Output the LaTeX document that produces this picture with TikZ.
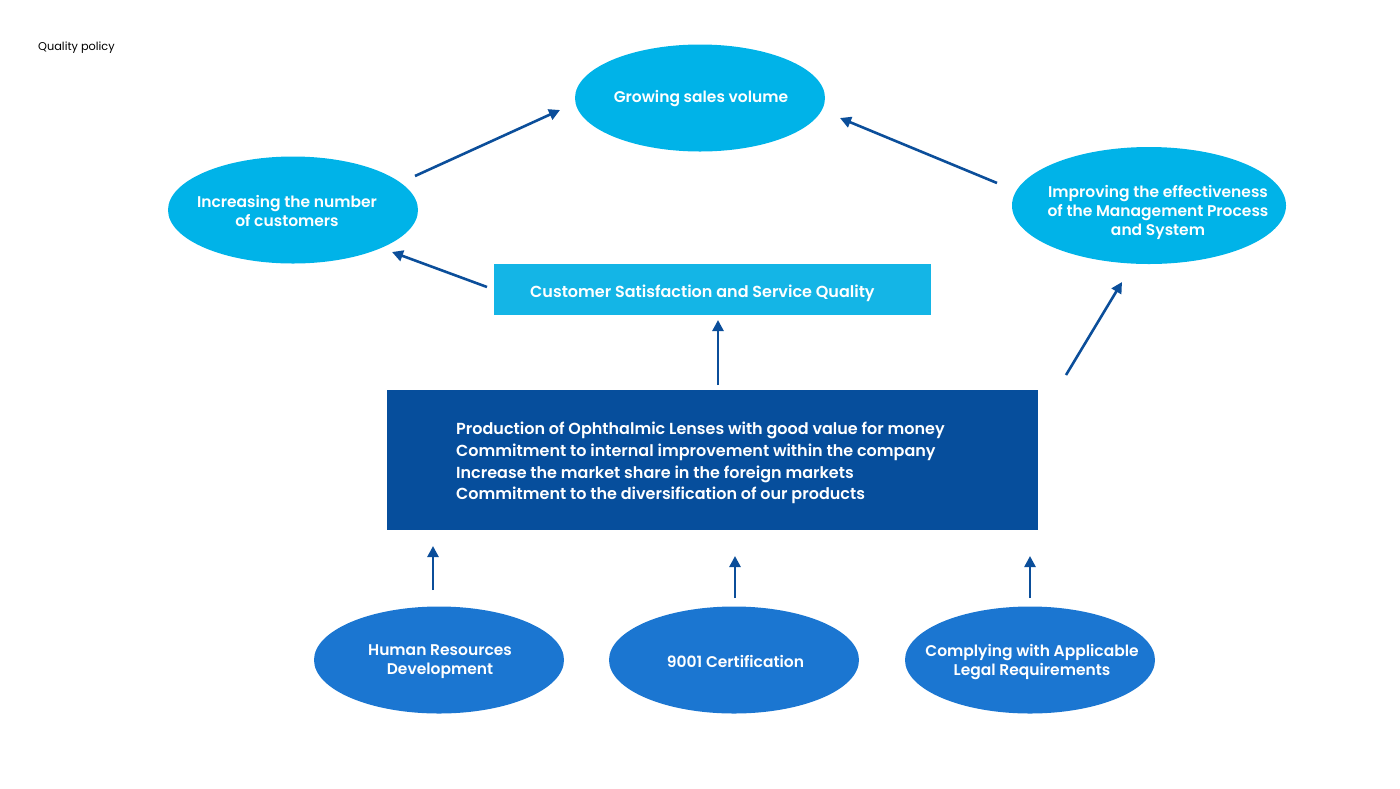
\documentclass[tikz,border=0pt]{standalone}
\usepackage{fontspec}
\setmainfont{Poppins}[BoldFont={Poppins SemiBold}]
\usetikzlibrary{shapes.geometric,arrows.meta}
\definecolor{cyanE}{HTML}{00B3E8}
\definecolor{cyanR}{HTML}{14B5E6}
\definecolor{darkR}{HTML}{064E9C}
\definecolor{midB}{HTML}{1B76D1}
\definecolor{arrC}{HTML}{0B4E9A}
\tikzset{
  ell/.style={ellipse, inner sep=0pt, minimum width=250pt, minimum height=107pt},
  topell/.style={ell, fill=cyanE},
  botell/.style={ell, fill=midB},
  lbl/.style={text=white, font=\fontsize{15.5}{19}\selectfont\bfseries, align=center, inner sep=0pt},
  arr/.style={draw=arrC, line width=2.6pt, -{Triangle[length=11pt,width=11pt]}},
}
\begin{document}
\begin{tikzpicture}[x=1pt,y=-1pt]
\useasboundingbox (0,0) rectangle (1400,788);
\node[anchor=west, inner sep=0pt, font=\fontsize{11.3}{12}\selectfont] (title) at (38,48) {Quality policy};

\node[topell] (grow) at (700,98) {};
\node[lbl] (growt) at (701,99) {Growing sales volume};
\node[topell] (inc) at (293,210) {};
\node[lbl] (inct) at (287,210.5) {Increasing the number\\of customers};
\node[topell, minimum width=274pt, minimum height=117pt] (imp) at (1149,205.5) {};
\node[lbl] (impt) at (1158,212) {Improving the effectiveness\\of the Management Process\\and System};

\node[fill=cyanR, minimum width=437pt, minimum height=51pt, inner sep=0pt] (cs) at (712.5,289.5) {};
\node[lbl, anchor=west, font=\fontsize{16}{19}\selectfont\bfseries] (cst) at (530,293) {Customer Satisfaction and Service Quality};

\node[fill=darkR, minimum width=651pt, minimum height=140pt, inner sep=0pt] (main) at (712.5,460) {};
\node[lbl, anchor=west, align=left, font=\fontsize{16}{21.7}\selectfont\bfseries] (maint) at (456,463) {Production of Ophthalmic Lenses with good value for money\\Commitment to internal improvement within the company\\Increase the market share in the foreign markets\\Commitment to the diversification of our products};

\node[botell] (hr) at (439,660) {};
\node[lbl] (hrt) at (440,662) {Human Resources\\Development};
\node[botell] (iso) at (734,660) {};
\node[lbl] (isot) at (735.5,661) {9001 Certification};
\node[botell] (legal) at (1030,660) {};
\node[lbl] (legalt) at (1032,662) {Complying with Applicable\\Legal Requirements};

\coordinate (a1s) at (415,176); \coordinate (a1e) at (560,110);
\coordinate (a2s) at (997,183); \coordinate (a2e) at (840,118);
\coordinate (a3s) at (487,287); \coordinate (a3e) at (392,252);
\coordinate (a4s) at (718,385); \coordinate (a4e) at (718,320);
\coordinate (a5s) at (1066,375); \coordinate (a5e) at (1122,282);
\coordinate (a6s) at (433,590); \coordinate (a6e) at (433,546);
\coordinate (a7s) at (735,598); \coordinate (a7e) at (735,556);
\coordinate (a8s) at (1030,598); \coordinate (a8e) at (1030,556);

\draw[arr] (a1s) -- (a1e);
\draw[arr] (a2s) -- (a2e);
\draw[arr] (a3s) -- (a3e);
\draw[arr] (a4s) -- (a4e);
\draw[arr] (a5s) -- (a5e);
\draw[arr] (a6s) -- (a6e);
\draw[arr] (a7s) -- (a7e);
\draw[arr] (a8s) -- (a8e);
\end{tikzpicture}
\end{document}
